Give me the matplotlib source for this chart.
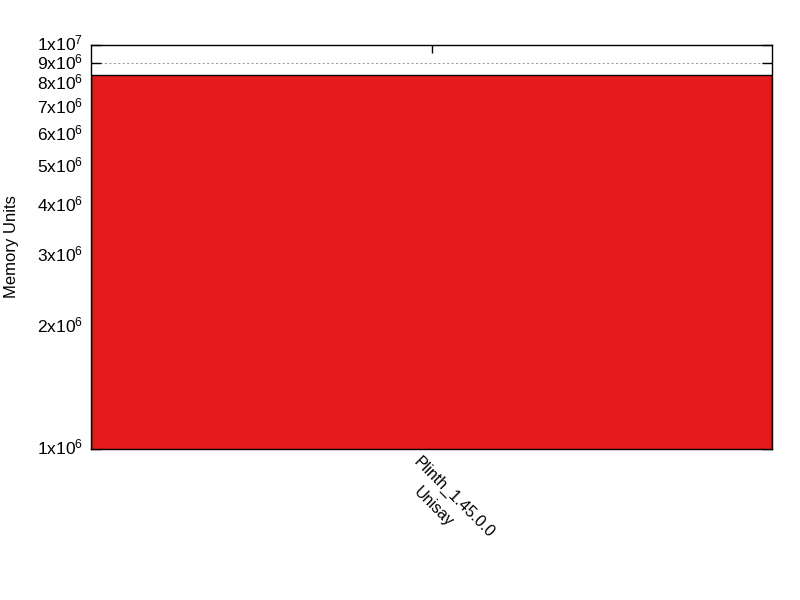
import matplotlib
matplotlib.use("Agg")
import matplotlib.pyplot as plt
from matplotlib.transforms import ScaledTranslation

plt.rcParams["font.family"] = ["Liberation Sans", "DejaVu Sans"]
plt.rcParams["mathtext.fontset"] = "custom"
plt.rcParams["mathtext.rm"] = "Liberation Sans"
plt.rcParams["mathtext.default"] = "regular"

categories = ["Plinth_1.45.0.0\nUnisay"]
values = [8.43e6]
ytick_values = [1e6, 2e6, 3e6, 4e6, 5e6, 6e6, 7e6, 8e6, 9e6, 1e7]
ytick_labels = [r"1x10$^{6}$", r"2x10$^{6}$", r"3x10$^{6}$", r"4x10$^{6}$", r"5x10$^{6}$",
                r"6x10$^{6}$", r"7x10$^{6}$", r"8x10$^{6}$", r"9x10$^{6}$", r"1x10$^{7}$"]
ylabel = "Memory Units"

fig = plt.figure(figsize=(8, 6), dpi=100)
ax = fig.add_axes([91 / 800, 151 / 600, 681 / 800, 404 / 600])

x = list(range(len(categories)))
ax.bar(x, values, width=1.0, color="#e41a1c", edgecolor="black", linewidth=1.0, zorder=2)
ax.set_yscale("log")
ax.set_ylim(1e6, 1e7)
ax.set_xlim(-0.5, len(categories) - 0.5)

ax.set_yticks(ytick_values)
ax.set_yticklabels(ytick_labels, fontsize=12.5)
ax.yaxis.set_minor_locator(matplotlib.ticker.NullLocator())
ax.tick_params(axis="y", direction="in", length=7, width=1, right=True, pad=6, colors="black")
# gnuplot sits the labels a few pixels above the tick
shift = ScaledTranslation(0, 3 / 100, fig.dpi_scale_trans)
for lab in ax.get_yticklabels():
    lab.set_transform(lab.get_transform() + shift)

ax.set_xticks(x)
ax.set_xticklabels([""] * len(x))
ax.tick_params(axis="x", direction="in", length=6, width=1, top=True)
ax.grid(axis="y", color="#a0a0a0", linestyle=(0, (2, 2)), linewidth=0.8, zorder=1)
ax.set_axisbelow(True)
for s in ax.spines.values():
    s.set_linewidth(1.0)
    s.set_zorder(3)

for i, cat in enumerate(categories):
    for j, line in enumerate(cat.split("\n")):
        ax.annotate(line, xy=(i, 0), xycoords=("data", "axes fraction"),
                    xytext=(-10, -5 - 30 * j), textcoords="offset pixels",
                    rotation=-45, rotation_mode="anchor", ha="left", va="top",
                    fontsize=11.5)

ax.set_ylabel(ylabel, fontsize=12)
ax.yaxis.set_label_coords(-0.106, 0.5)

fig.savefig("out.png", dpi=100)
